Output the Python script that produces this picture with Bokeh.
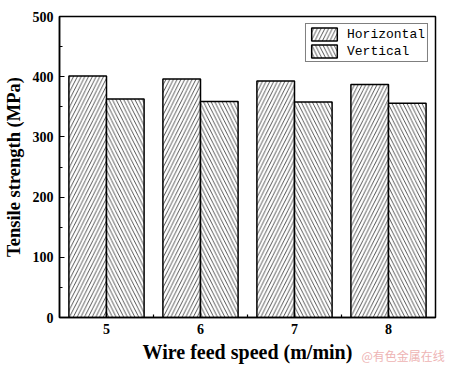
from bokeh.plotting import figure
from bokeh.models import FixedTicker, Range1d, Legend, LegendItem, LinearAxis, ColumnDataSource
from bokeh.transform import dodge
from bokeh.embed import file_html
from bokeh.resources import INLINE

speeds = [5, 6, 7, 8]
horizontal = [401, 396, 393, 387]
vertical = [363, 359, 358, 356]
y_ticks = [0, 100, 200, 300, 400, 500]
x_label = "Wire feed speed (m/min)"
y_label = "Tensile strength (MPa)"
series_names = ["Horizontal", "Vertical"]
watermark = "@有色金属在线"

src = ColumnDataSource(dict(x=speeds, h=horizontal, v=vertical))

p = figure(width=441, height=366, output_backend="svg", toolbar_location=None,
           x_range=Range1d(4.5, 8.5), y_range=Range1d(0, 500),
           min_border_left=55, min_border_right=10, min_border_top=16, min_border_bottom=49)
p.frame_width = 376
p.frame_height = 301

hatch_kw = dict(fill_color="white", line_color="black", line_width=1.5,
                hatch_scale=7.5, hatch_weight=0.9, hatch_color="#444444")
rh = p.vbar(x=dodge("x", -0.2), top="h", width=0.4, source=src, hatch_pattern="/", **hatch_kw)
rv = p.vbar(x=dodge("x", 0.2), top="v", width=0.4, source=src, hatch_pattern="\\", **hatch_kw)

p.grid.visible = False
p.outline_line_color = "black"
p.outline_line_width = 1.5
p.background_fill_color = "white"
p.border_fill_color = "white"

p.xaxis.ticker = FixedTicker(ticks=speeds, minor_ticks=[5.5, 6.5, 7.5])
p.yaxis.ticker = FixedTicker(ticks=y_ticks, minor_ticks=[50, 150, 250, 350, 450])
for ax in (p.xaxis, p.yaxis):
    ax.axis_line_width = 1.5
    ax.axis_line_color = "black"
    ax.major_tick_in = 5
    ax.major_tick_out = 0
    ax.minor_tick_in = 3
    ax.minor_tick_out = 0
    ax.major_tick_line_width = 1.2
    ax.minor_tick_line_width = 1.2
    ax.major_label_text_font = "Liberation Serif"
    ax.major_label_text_font_style = "bold"
    ax.major_label_text_font_size = "14px"
    ax.major_label_text_color = "black"
    ax.axis_label_text_font = "Liberation Serif"
    ax.axis_label_text_font_style = "bold"
    ax.axis_label_text_color = "black"

p.xaxis.axis_label = x_label
p.xaxis.axis_label_text_font_size = "20px"
p.xaxis.major_label_standoff = 6
p.xaxis.axis_label_standoff = 4
p.yaxis.axis_label = y_label
p.yaxis.axis_label_text_font_size = "18.5px"
p.yaxis.major_label_standoff = 6
p.yaxis.axis_label_standoff = 6

legend = Legend(items=[LegendItem(label=series_names[0], renderers=[rh]),
                       LegendItem(label=series_names[1], renderers=[rv])],
                location="top_right", margin=7, padding=2, spacing=1,
                glyph_width=32, glyph_height=16, label_height=16,
                label_standoff=7, border_line_color="black", border_line_width=1,
                label_text_font="Liberation Mono", label_text_font_size="13px",
                label_text_color="black")
p.add_layout(legend)

# watermark carried by an extra, line-less axis in the bottom panel
wm_pos = 8.17
wm_axis = LinearAxis(ticker=FixedTicker(ticks=[wm_pos], minor_ticks=[]),
                     major_label_overrides={wm_pos: watermark},
                     axis_line_color=None, major_tick_line_color=None,
                     minor_tick_line_color=None, major_label_standoff=-25,
                     major_label_text_font="Noto Sans CJK SC",
                     major_label_text_font_size="12px",
                     major_label_text_color="#eeb4b4")
p.add_layout(wm_axis, "below")

open("out.html", "w").write(file_html(p, INLINE))
